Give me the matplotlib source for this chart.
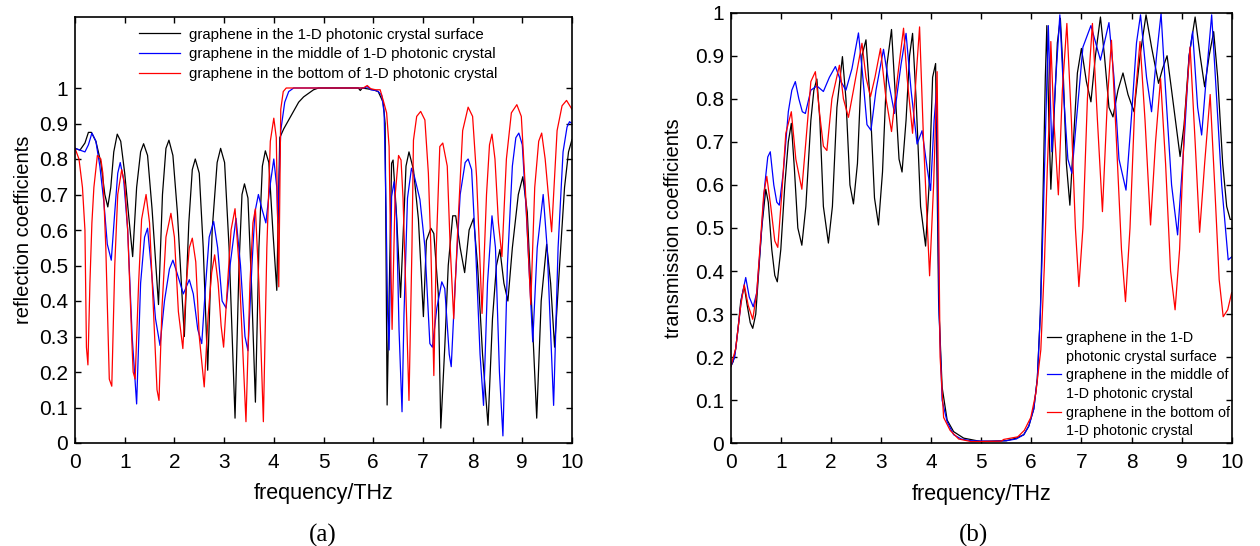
import matplotlib
matplotlib.use("Agg")
import matplotlib.pyplot as plt
from matplotlib.lines import Line2D

# ---------------- data: reflection (a) ----------------
r_black_x = [0, 0.1, 0.2, 0.27, 0.33, 0.42, 0.52, 0.6, 0.66, 0.72, 0.78, 0.85, 0.92, 1.0, 1.08, 1.16,
             1.24, 1.32, 1.38, 1.46, 1.55, 1.68, 1.76, 1.83, 1.89, 1.97, 2.06, 2.2, 2.29, 2.36, 2.42,
             2.5, 2.58, 2.67, 2.76, 2.86, 2.93, 3.01, 3.1, 3.22, 3.3, 3.36, 3.41, 3.48, 3.55, 3.63,
             3.7, 3.77, 3.83, 3.9, 3.98, 4.06, 4.12, 4.2, 4.3, 4.4, 4.5, 4.6, 4.7, 4.8, 4.9, 5.7,
             5.74, 5.78, 6.0, 6.1, 6.2, 6.24, 6.28, 6.37, 6.40, 6.47, 6.55, 6.66, 6.72, 6.81, 6.91,
             7.01, 7.07, 7.16, 7.22, 7.31, 7.36, 7.44, 7.51, 7.6, 7.66, 7.75, 7.84, 7.93, 8.02, 8.1,
             8.2, 8.31, 8.4, 8.48, 8.55, 8.63, 8.71, 8.8, 8.92, 9.01, 9.1, 9.2, 9.29, 9.38, 9.49,
             9.57, 9.65, 9.75, 9.85, 9.93, 10.0]
r_black_y = [0.83, 0.825, 0.845, 0.875, 0.875, 0.85, 0.79, 0.7, 0.665, 0.72, 0.82, 0.87, 0.85, 0.76,
             0.64, 0.525, 0.72, 0.82, 0.843, 0.81, 0.66, 0.39, 0.7, 0.83, 0.853, 0.81, 0.65, 0.30,
             0.62, 0.77, 0.80, 0.76, 0.55, 0.205, 0.6, 0.79, 0.83, 0.79, 0.55, 0.07, 0.5, 0.7, 0.73,
             0.69, 0.45, 0.115, 0.55, 0.78, 0.823, 0.79, 0.6, 0.43, 0.86, 0.885, 0.91, 0.935, 0.96,
             0.975, 0.985, 0.995, 1.0, 1.0, 0.993, 1.0, 0.995, 0.99, 0.96, 0.9, 0.107, 0.788, 0.797,
             0.64, 0.41, 0.78, 0.82, 0.77, 0.63, 0.356, 0.57, 0.605, 0.59, 0.42, 0.042, 0.27, 0.50,
             0.64, 0.64, 0.55, 0.48, 0.6, 0.633, 0.5, 0.25, 0.05, 0.35, 0.5, 0.545, 0.45, 0.40, 0.55,
             0.7, 0.75, 0.65, 0.35, 0.07, 0.4, 0.56, 0.45, 0.27, 0.5, 0.72, 0.82, 0.855]

r_blue_x = [0, 0.1, 0.2, 0.27, 0.34, 0.42, 0.5, 0.58, 0.65, 0.73, 0.8, 0.86, 0.91, 0.98, 1.06, 1.15,
            1.24, 1.32, 1.4, 1.46, 1.53, 1.62, 1.71, 1.8, 1.9, 1.97, 2.05, 2.18, 2.3, 2.38, 2.47,
            2.55, 2.63, 2.7, 2.79, 2.87, 2.96, 3.04, 3.12, 3.24, 3.33, 3.42, 3.48, 3.56, 3.62, 3.69,
            3.76, 3.84, 3.92, 4.0, 4.06, 4.08, 4.14, 4.22, 4.3, 4.4, 5.82, 5.88, 5.95, 6.05, 6.1,
            6.17, 6.22, 6.26, 6.29, 6.32, 6.37, 6.42, 6.47, 6.52, 6.58, 6.62, 6.69, 6.77, 6.83, 6.94,
            7.04, 7.14, 7.19, 7.28, 7.38, 7.44, 7.53, 7.57, 7.65, 7.75, 7.85, 7.91, 7.98, 8.06, 8.15,
            8.22, 8.3, 8.39, 8.46, 8.54, 8.61, 8.7, 8.8, 8.87, 8.93, 9.0, 9.08, 9.21, 9.3, 9.42, 9.5,
            9.63, 9.72, 9.82, 9.9, 9.95, 10.0]
r_blue_y = [0.83, 0.825, 0.82, 0.84, 0.873, 0.85, 0.78, 0.68, 0.56, 0.515, 0.65, 0.76, 0.79, 0.74,
            0.6, 0.3, 0.11, 0.45, 0.58, 0.605, 0.5, 0.35, 0.275, 0.4, 0.49, 0.515, 0.48, 0.42, 0.46,
            0.42, 0.32, 0.28, 0.45, 0.58, 0.624, 0.55, 0.4, 0.38, 0.5, 0.633, 0.5, 0.3, 0.26, 0.5,
            0.65, 0.70, 0.66, 0.62, 0.72, 0.80, 0.72, 0.62, 0.88, 0.96, 0.99, 1.0, 1.0, 1.004, 0.995,
            0.993, 0.99, 0.98, 0.93, 0.65, 0.365, 0.262, 0.694, 0.736, 0.63, 0.318, 0.088, 0.365,
            0.69, 0.774, 0.75, 0.686, 0.553, 0.28, 0.27, 0.38, 0.454, 0.435, 0.25, 0.215, 0.45, 0.7,
            0.79, 0.80, 0.77, 0.55, 0.25, 0.106, 0.45, 0.64, 0.55, 0.2, 0.02, 0.5, 0.78, 0.86, 0.873,
            0.84, 0.65, 0.285, 0.55, 0.70, 0.55, 0.106, 0.55, 0.82, 0.89, 0.905, 0.9]

r_red_x = [0, 0.08, 0.15, 0.2, 0.23, 0.26, 0.3, 0.34, 0.38, 0.45, 0.52, 0.56, 0.62, 0.69, 0.74, 0.8,
           0.86, 0.94, 1.0, 1.06, 1.14, 1.17, 1.21, 1.28, 1.34, 1.43, 1.5, 1.58, 1.65, 1.69, 1.75,
           1.83, 1.93, 2.0, 2.08, 2.17, 2.24, 2.3, 2.36, 2.43, 2.5, 2.6, 2.68, 2.75, 2.81, 2.88,
           2.94, 2.99, 3.07, 3.14, 3.22, 3.3, 3.44, 3.52, 3.58, 3.63, 3.7, 3.79, 3.86, 3.93, 4.0,
           4.05, 4.1, 4.14, 4.19, 4.25, 5.8, 5.88, 5.95, 6.05, 6.14, 6.2, 6.27, 6.32, 6.35, 6.38,
           6.44, 6.51, 6.56, 6.6, 6.67, 6.72, 6.78, 6.81, 6.875, 6.955, 7.04, 7.11, 7.16, 7.22,
           7.27, 7.34, 7.4, 7.49, 7.55, 7.62, 7.7, 7.8, 7.91, 8.0, 8.08, 8.19, 8.28, 8.34, 8.39,
           8.45, 8.52, 8.59, 8.68, 8.78, 8.89, 8.98, 9.06, 9.17, 9.25, 9.33, 9.39, 9.46, 9.59, 9.7,
           9.8, 9.89, 10.0]
r_red_y = [0.83, 0.8, 0.72, 0.6, 0.27, 0.22, 0.45, 0.62, 0.72, 0.81, 0.8, 0.76, 0.55, 0.18, 0.16, 0.5,
           0.7, 0.77, 0.73, 0.6, 0.3, 0.2, 0.18, 0.45, 0.63, 0.70, 0.62, 0.37, 0.15, 0.12, 0.38,
           0.58, 0.647, 0.58, 0.37, 0.266, 0.45, 0.55, 0.577, 0.51, 0.3, 0.158, 0.36, 0.48, 0.53,
           0.45, 0.33, 0.27, 0.45, 0.6, 0.66, 0.5, 0.06, 0.45, 0.62, 0.66, 0.45, 0.06, 0.55, 0.85,
           0.915, 0.86, 0.44, 0.94, 0.99, 1.0, 1.0, 1.007, 0.998, 0.995, 0.995, 0.966, 0.93, 0.835,
           0.55, 0.32, 0.694, 0.81, 0.797, 0.69, 0.365, 0.12, 0.553, 0.853, 0.92, 0.934, 0.91, 0.76,
           0.553, 0.19, 0.553, 0.835, 0.845, 0.78, 0.55, 0.35, 0.6, 0.88, 0.946, 0.92, 0.75, 0.365,
           0.7, 0.84, 0.87, 0.8, 0.62, 0.525, 0.8, 0.93, 0.953, 0.92, 0.72, 0.39, 0.72, 0.85, 0.873,
           0.8, 0.595, 0.88, 0.95, 0.965, 0.94]

# ---------------- data: transmission (b) ----------------
t_black_x = [0, 0.05, 0.1, 0.15, 0.2, 0.27, 0.33, 0.39, 0.44, 0.5, 0.56, 0.62, 0.7, 0.75, 0.82, 0.88,
             0.93, 1.0, 1.08, 1.15, 1.21, 1.27, 1.34, 1.42, 1.5, 1.6, 1.66, 1.72, 1.78, 1.85, 1.95,
             2.03, 2.12, 2.23, 2.3, 2.38, 2.45, 2.53, 2.62, 2.7, 2.78, 2.87, 2.95, 3.03, 3.12, 3.21,
             3.29, 3.36, 3.42, 3.5, 3.57, 3.63, 3.7, 3.79, 3.89, 3.96, 4.03, 4.09, 4.15, 4.22, 4.32,
             4.45, 4.65, 5.0, 5.5, 5.7, 5.85, 5.95, 6.05, 6.12, 6.18, 6.23, 6.28, 6.31, 6.35, 6.39,
             6.45, 6.52, 6.58, 6.64, 6.7, 6.77, 6.84, 6.92, 7.0, 7.1, 7.19, 7.28, 7.38, 7.46, 7.55,
             7.63, 7.73, 7.83, 7.93, 8.05, 8.17, 8.29, 8.4, 8.54, 8.62, 8.71, 8.8, 8.97, 9.05, 9.15,
             9.27, 9.37, 9.46, 9.55, 9.64, 9.72, 9.82, 9.9, 9.97, 10.0]
t_black_y = [0.178, 0.19, 0.22, 0.27, 0.33, 0.365, 0.32, 0.28, 0.267, 0.3, 0.4, 0.5, 0.59, 0.56, 0.45,
             0.39, 0.375, 0.45, 0.6, 0.7, 0.743, 0.64, 0.5, 0.46, 0.55, 0.75, 0.82, 0.846, 0.75,
             0.55, 0.465, 0.55, 0.78, 0.898, 0.8, 0.6, 0.556, 0.65, 0.9, 0.937, 0.8, 0.57, 0.507,
             0.63, 0.88, 0.961, 0.8, 0.66, 0.63, 0.75, 0.9, 0.952, 0.8, 0.55, 0.458, 0.6, 0.85,
             0.882, 0.33, 0.13, 0.054, 0.027, 0.012, 0.004, 0.006, 0.012, 0.02, 0.04, 0.08, 0.15,
             0.3, 0.55, 0.85, 0.97, 0.75, 0.59, 0.75, 0.93, 0.987, 0.85, 0.65, 0.553, 0.7, 0.86,
             0.917, 0.84, 0.793, 0.9, 0.99, 0.9, 0.78, 0.758, 0.82, 0.86, 0.81, 0.77, 0.9, 0.995,
             0.92, 0.836, 0.87, 0.9, 0.82, 0.666, 0.74, 0.9, 0.99, 0.9, 0.828, 0.9, 0.956, 0.85,
             0.65, 0.55, 0.52, 0.52]

t_blue_x = [0, 0.08, 0.15, 0.22, 0.3, 0.37, 0.45, 0.52, 0.6, 0.68, 0.74, 0.79, 0.86, 0.92, 0.97,
            1.05, 1.15, 1.22, 1.29, 1.36, 1.43, 1.49, 1.6, 1.72, 1.85, 1.97, 2.09, 2.2, 2.3, 2.42,
            2.55, 2.63, 2.72, 2.8, 2.9, 3.05, 3.15, 3.27, 3.4, 3.5, 3.6, 3.72, 3.82, 3.92, 3.99,
            4.06, 4.11, 4.16, 4.22, 4.32, 4.45, 4.6, 4.8, 5.2, 5.5, 5.7, 5.85, 5.95, 6.05, 6.12,
            6.18, 6.22, 6.29, 6.34, 6.41, 6.49, 6.57, 6.65, 6.73, 6.81, 6.9, 7.03, 7.19, 7.38, 7.55,
            7.65, 7.75, 7.89, 8.0, 8.1, 8.18, 8.3, 8.4, 8.5, 8.59, 8.68, 8.8, 8.92, 9.05, 9.15, 9.22,
            9.32, 9.4, 9.5, 9.6, 9.7, 9.8, 9.93, 10.0]
t_blue_y = [0.178, 0.2, 0.27, 0.34, 0.385, 0.34, 0.317, 0.35, 0.47, 0.6, 0.665, 0.677, 0.6, 0.56,
            0.553, 0.63, 0.77, 0.82, 0.84, 0.8, 0.77, 0.766, 0.82, 0.83, 0.817, 0.85, 0.875, 0.84,
            0.82, 0.87, 0.953, 0.86, 0.74, 0.727, 0.82, 0.915, 0.84, 0.766, 0.88, 0.952, 0.82,
            0.695, 0.726, 0.64, 0.587, 0.75, 0.82, 0.3, 0.1, 0.05, 0.02, 0.01, 0.006, 0.005, 0.006,
            0.01, 0.02, 0.04, 0.08, 0.15, 0.3, 0.45, 0.75, 0.97, 0.677, 0.85, 0.995, 0.8, 0.66,
            0.627, 0.75, 0.92, 0.97, 0.89, 0.977, 0.85, 0.66, 0.588, 0.76, 0.93, 0.995, 0.85, 0.77,
            0.9, 0.998, 0.82, 0.6, 0.484, 0.7, 0.9, 0.956, 0.78, 0.716, 0.86, 0.995, 0.8, 0.6, 0.426,
            0.433]

t_red_x = [0, 0.1, 0.2, 0.27, 0.35, 0.44, 0.52, 0.6, 0.66, 0.72, 0.8, 0.88, 0.94, 1.02, 1.1, 1.21,
           1.3, 1.42, 1.5, 1.6, 1.69, 1.78, 1.85, 1.92, 2.02, 2.17, 2.25, 2.35, 2.45, 2.62, 2.7,
           2.79, 2.88, 2.99, 3.1, 3.21, 3.33, 3.45, 3.52, 3.63, 3.7, 3.77, 3.85, 3.97, 4.05, 4.12,
           4.18, 4.25, 4.38, 4.55, 4.8, 5.4, 5.45, 5.73, 5.86, 5.99, 6.09, 6.19, 6.26, 6.32, 6.36,
           6.39, 6.45, 6.54, 6.62, 6.71, 6.8, 6.88, 6.95, 7.03, 7.12, 7.22, 7.32, 7.42, 7.52, 7.6,
           7.7, 7.8, 7.88, 7.97, 8.07, 8.17, 8.27, 8.38, 8.48, 8.58, 8.68, 8.78, 8.87, 8.96, 9.06,
           9.17, 9.27, 9.36, 9.46, 9.57, 9.66, 9.75, 9.83, 9.92, 10.0]
t_red_y = [0.178, 0.22, 0.32, 0.368, 0.32, 0.288, 0.35, 0.48, 0.58, 0.62, 0.55, 0.47, 0.455, 0.58,
           0.72, 0.77, 0.66, 0.59, 0.7, 0.84, 0.863, 0.76, 0.69, 0.68, 0.8, 0.878, 0.8, 0.757, 0.82,
           0.929, 0.85, 0.805, 0.85, 0.917, 0.8, 0.724, 0.85, 0.964, 0.85, 0.72, 0.85, 0.967, 0.7,
           0.389, 0.6, 0.863, 0.2, 0.06, 0.03, 0.01, 0.004, 0.005, 0.009, 0.015, 0.03, 0.06, 0.116,
           0.217, 0.41, 0.64, 0.76, 0.933, 0.75, 0.577, 0.82, 0.975, 0.75, 0.5, 0.364, 0.5, 0.8,
           0.975, 0.75, 0.538, 0.8, 0.936, 0.7, 0.45, 0.329, 0.5, 0.8, 0.933, 0.75, 0.507, 0.7,
           0.847, 0.65, 0.4, 0.31, 0.45, 0.75, 0.92, 0.7, 0.49, 0.65, 0.81, 0.6, 0.38, 0.294, 0.31,
           0.35]

x_ticks = [0, 1, 2, 3, 4, 5, 6, 7, 8, 9, 10]
y_ticks = [0, 0.1, 0.2, 0.3, 0.4, 0.5, 0.6, 0.7, 0.8, 0.9, 1.0]
y_tick_labels = ["0", "0.1", "0.2", "0.3", "0.4", "0.5", "0.6", "0.7", "0.8", "0.9", "1"]
legend_a = ["graphene in the 1-D photonic crystal surface",
            "graphene in the middle of 1-D photonic crystal",
            "graphene in the bottom of 1-D photonic crystal"]
legend_b = ["graphene in the 1-D", "photonic crystal surface",
            "graphene in the middle of", "1-D photonic crystal",
            "graphene in the bottom of", "1-D photonic crystal"]

plt.rcParams['font.family'] = ['Liberation Sans', 'DejaVu Sans']

fig = plt.figure(figsize=(12.6, 5.46), dpi=100)
ax1 = fig.add_axes([75/1260, 1-443/546, 497/1260, 426/546])
ax2 = fig.add_axes([730.7/1260, 1-443.3/546, 501/1260, 430.6/546])

LW = 0.9
ax1.plot(r_black_x, r_black_y, color='black', lw=LW)
ax1.plot(r_blue_x, r_blue_y, color='blue', lw=LW)
ax1.plot(r_red_x, r_red_y, color='red', lw=LW)

ax2.plot(t_black_x, t_black_y, color='black', lw=LW)
ax2.plot(t_blue_x, t_blue_y, color='blue', lw=LW)
ax2.plot(t_red_x, t_red_y, color='red', lw=LW)

for ax, ytop in ((ax1, 1.2), (ax2, 1.0)):
    ax.set_xlim(0, 10)
    ax.set_ylim(0, ytop)
    ax.set_xticks(x_ticks)
    ax.set_xticklabels([str(v) for v in x_ticks])
    ax.set_yticks(y_ticks)
    ax.set_yticklabels(y_tick_labels)
    ax.tick_params(direction='in', length=4, width=1.0, top=True, right=True, labelsize=15)
    ax.tick_params(axis='x', pad=7)
    ax.tick_params(axis='y', pad=5)
    for s in ax.spines.values():
        s.set_linewidth(1.2)
    ax.set_xlabel("frequency/THz", fontsize=15.5)
    ax.xaxis.set_label_coords(0.5, -0.095)

ax1.set_ylabel("reflection coefficients", fontsize=14.5)
ax1.yaxis.set_label_coords(-0.085, 0.5)
ax2.set_ylabel("transmission coefficients", fontsize=14.5)
ax2.yaxis.set_label_coords(-0.095, 0.5)

h = [Line2D([], [], color=c, lw=LW) for c in ('black', 'blue', 'red')]
ax1.legend(h, legend_a, loc='upper left', bbox_to_anchor=(0.129, 0.975), frameon=False,
           fontsize=10.8, handlelength=2.7, handletextpad=0.6, labelspacing=0.38,
           borderpad=0, borderaxespad=0)

none = Line2D([], [], color='none', lw=LW)
hb = [h[0], none, h[1], none, h[2], none]
ax2.legend(hb, legend_b, loc='lower left', bbox_to_anchor=(0.631, 0.012), frameon=False,
           fontsize=10.3, handlelength=1.0, handletextpad=0.35, labelspacing=0.32,
           borderpad=0, borderaxespad=0)

fig.text(323/1260, 0.02, "(a)", family='Liberation Serif', fontsize=18, ha='center', va='center')
fig.text(973/1260, 0.02, "(b)", family='Liberation Serif', fontsize=18, ha='center', va='center')

fig.savefig("out.png", dpi=100)
